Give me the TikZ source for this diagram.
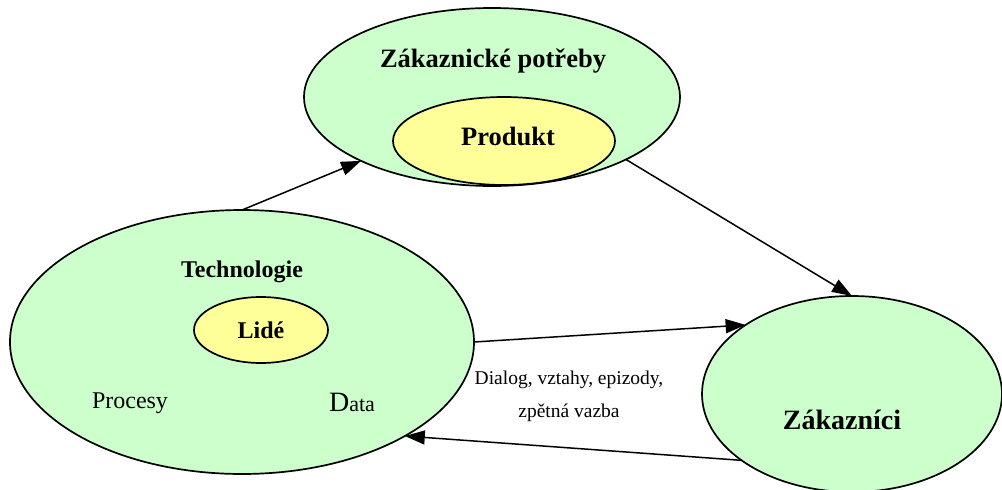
\documentclass[tikz,border=0pt]{standalone}
\usepackage{fontspec}
\setmainfont{Liberation Serif}
\usetikzlibrary{shapes.geometric,arrows.meta}
\definecolor{lgreen}{HTML}{CCFFCC}
\definecolor{lyellow}{HTML}{FFFF99}
\begin{document}
\begin{tikzpicture}[x=1pt,y=-1pt,
  oval/.style={ellipse,draw=black,line width=1.7pt,inner sep=0pt,outer sep=0pt},
  greenoval/.style={oval,fill=lgreen},
  yellowoval/.style={oval,fill=lyellow},
  conn/.style={line width=1.5pt,-{Triangle[length=20pt,width=14pt]}},
  lbl/.style={inner sep=0pt,font=\fontsize{#1}{#1}\selectfont\bfseries},
  txt/.style={inner sep=0pt,font=\fontsize{#1}{#1}\selectfont}]
\useasboundingbox (0,0) rectangle (1002,490);
\fill[white] (0,0) rectangle (1002,490);
% ellipses
\node[greenoval,minimum width=376pt,minimum height=178pt] (needs) at (492,97) {};
\node[yellowoval,minimum width=222pt,minimum height=88pt] (prod) at (504,141) {};
\node[greenoval,minimum width=464pt,minimum height=264pt] (tech) at (242,342) {};
\node[yellowoval,minimum width=134pt,minimum height=66pt] (people) at (261,330) {};
\node[greenoval,minimum width=300pt,minimum height=196pt] (cust) at (852,394) {};
% texts
\node[lbl=26.5] (tneeds) at (493,61) {Zákaznické potřeby};
\node[lbl=26.5] (tprod) at (508,136) {Produkt};
\node[lbl=24] (ttech) at (242,272) {Technologie};
\node[lbl=24] (tpeople) at (261,330) {Lidé};
\node[txt=24] (tproc) at (130,403) {Procesy};
\node[txt=22] (tdata) at (352,402) {{\fontsize{28}{28}\selectfont D}ata};
\node[lbl=28] (tcust) at (842,420) {Zákazníci};
\node[txt=19.5] (tdial1) at (569,380) {Dialog, vztahy, epizody,};
\node[txt=19.5] (tdial2) at (569,413) {zpětná vazba};
% connectors
\draw[conn] (tech.north) -- (needs.206);
\draw[conn] (needs.335) -- (cust.north);
\draw[conn] (tech.east) -- (cust.147.6);
\draw[conn] (cust.211.7) -- (tech.330);
\end{tikzpicture}
\end{document}
